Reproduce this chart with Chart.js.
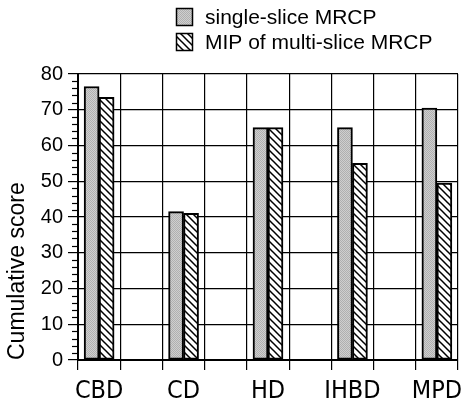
<!DOCTYPE html>
<html>
<head>
<meta charset="utf-8">
<script src="https://cdn.jsdelivr.net/npm/chart.js@4/dist/chart.umd.min.js"></script>
<style>
  html, body { margin: 0; padding: 0; background: #fff; }
  #wrap { width: 464px; height: 405px; }
</style>
</head>
<body>
<div id="wrap"><canvas id="chart" width="464" height="405"></canvas></div>
<script>
// Values
const categories = ['CBD', 'CD', 'HD', 'IHBD', 'MPD'];
const seriesNames = ['single-slice MRCP', 'MIP of multi-slice MRCP'];
const singleSlice = [76.5, 41.5, 65, 65, 70.5];
const mipMultiSlice = [73.5, 41, 65, 55, 49.5];
const yTicks = [0, 10, 20, 30, 40, 50, 60, 70, 80];

const FONT = "'Liberation Sans', Arial, Helvetica, sans-serif";
const NARROW = "'DejaVu Sans Condensed', 'Liberation Sans Narrow', 'Liberation Sans', Arial, sans-serif";

function stipplePattern() {
  const c = document.createElement('canvas');
  c.width = 2; c.height = 2;
  const g = c.getContext('2d');
  g.fillStyle = '#cfcfcf';
  g.fillRect(0, 0, 2, 2);
  g.fillStyle = '#b0b0b0';
  g.fillRect(0, 0, 1, 1);
  g.fillRect(1, 1, 1, 1);
  return g.createPattern(c, 'repeat');
}

function hatchPattern() {
  const s = 7;
  const c = document.createElement('canvas');
  c.width = s; c.height = s;
  const g = c.getContext('2d');
  g.fillStyle = '#fff';
  g.fillRect(0, 0, s, s);
  g.strokeStyle = '#000';
  g.lineWidth = 1.5;
  g.beginPath();
  g.moveTo(-1, -1); g.lineTo(s + 1, s + 1);
  g.moveTo(-1, s - 1); g.lineTo(1, s + 1);
  g.moveTo(s - 1, -1); g.lineTo(s + 1, 1);
  g.stroke();
  return g.createPattern(c, 'repeat');
}

const fills = [stipplePattern(), hatchPattern()];

// category i sits at x = i; grid lines at i - 0.25 and i + 0.25
const xTickValues = [];
categories.forEach((c, i) => { xTickValues.push(i - 0.25, i, i + 0.25); });

const xGridColor = ctx => (ctx.tick && Number.isInteger(ctx.tick.value)) ? 'rgba(0,0,0,0)' : '#000';

const minorTicks = {
  id: 'minorTicks',
  afterDraw(chart) {
    const y = chart.scales.y;
    const ctx = chart.ctx;
    const left = chart.chartArea.left;
    ctx.save();
    ctx.strokeStyle = '#000';
    ctx.lineWidth = 1.2;
    for (let v = y.min; v <= y.max; v += 2) {
      if (v % 10 === 0) continue;
      const py = Math.round(y.getPixelForValue(v)) + 0.5;
      ctx.beginPath();
      ctx.moveTo(left - 6, py);
      ctx.lineTo(left, py);
      ctx.stroke();
    }
    ctx.restore();
  }
};

// legend stacked in two rows above the plot
const stackedLegend = {
  id: 'stackedLegend',
  afterDraw(chart) {
    const ctx = chart.ctx;
    const rowTops = [8, 33];
    ctx.save();
    ctx.font = '21px ' + FONT;
    ctx.textBaseline = 'alphabetic';
    ctx.textAlign = 'left';
    chart.data.datasets.forEach((ds, i) => {
      const top = rowTops[i];
      ctx.fillStyle = ds.backgroundColor;
      ctx.fillRect(176, top, 16, 18);
      ctx.strokeStyle = '#000';
      ctx.lineWidth = 1.5;
      ctx.strokeRect(176.5, top + 0.5, 16, 17);
      ctx.fillStyle = '#000';
      ctx.fillText(ds.label, 205, top + 16);
    });
    ctx.restore();
  }
};

const toPoints = arr => arr.map((v, i) => ({ x: i, y: v }));

new Chart(document.getElementById('chart'), {
  type: 'bar',
  data: {
    datasets: [
      {
        label: seriesNames[0],
        data: toPoints(singleSlice),
        backgroundColor: fills[0],
        borderColor: '#000',
        borderWidth: 2,
        borderSkipped: false,
        barThickness: 15
      },
      {
        label: seriesNames[1],
        data: toPoints(mipMultiSlice),
        backgroundColor: fills[1],
        borderColor: '#000',
        borderWidth: 2,
        borderSkipped: false,
        barThickness: 15
      }
    ]
  },
  options: {
    responsive: false,
    animation: false,
    layout: { padding: { top: 74, right: 5, left: 0, bottom: 0 } },
    plugins: {
      legend: { display: false },
      tooltip: { enabled: false }
    },
    scales: {
      x: {
        type: 'linear',
        offset: false,
        min: -0.25,
        max: categories.length - 0.75,
        afterBuildTicks: s => { s.ticks = xTickValues.map(v => ({ value: v })); },
        afterFit: s => { s.height = 45; },
        grid: { offset: false, color: xGridColor, tickColor: xGridColor, lineWidth: 1.2, tickLength: 10 },
        border: { color: '#000', width: 2 },
        ticks: {
          autoSkip: false,
          maxRotation: 0,
          padding: 6,
          color: '#000',
          font: { family: NARROW, size: 25 },
          callback: v => Number.isInteger(v) ? categories[v] : ''
        }
      },
      y: {
        min: yTicks[0],
        max: yTicks[yTicks.length - 1],
        afterBuildTicks: s => { s.ticks = yTicks.map(v => ({ value: v })); },
        afterFit: s => { s.width = 78; },
        grid: { color: '#000', lineWidth: 1.2, tickLength: 10 },
        border: { color: '#000', width: 2 },
        ticks: { padding: 5, color: '#000', font: { family: FONT, size: 20 } },
        title: {
          display: true,
          text: 'Cumulative score',
          align: 'start',
          color: '#000',
          font: { family: FONT, size: 23 },
          padding: { top: 4, bottom: 0 }
        }
      }
    }
  },
  plugins: [minorTicks, stackedLegend]
});
</script>
</body>
</html>
